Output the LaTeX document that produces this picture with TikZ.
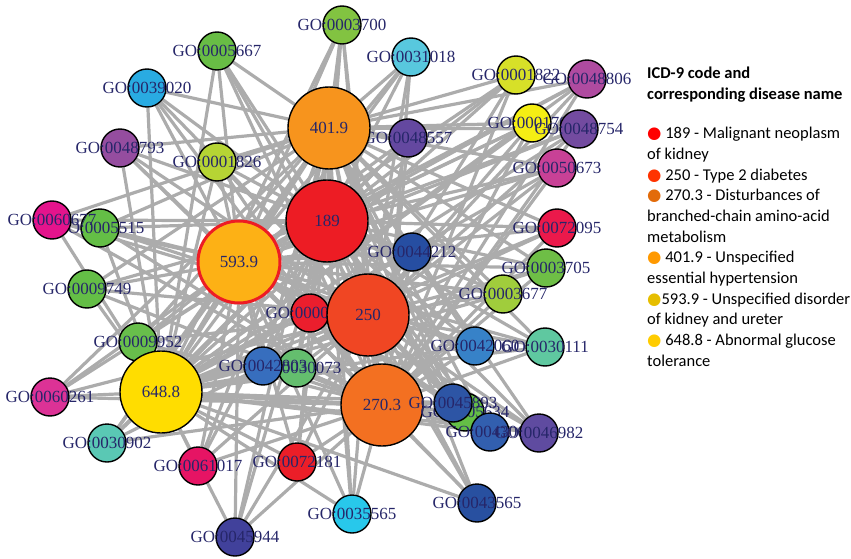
\documentclass[tikz,border=0pt]{standalone}
\usepackage{fontspec}
\setmainfont{Liberation Serif}
\newfontfamily\legfont{Carlito}
\newfontfamily\symfont{DejaVu Sans}
\definecolor{labc}{RGB}{38,38,105}
\definecolor{edgec}{RGB}{172,172,172}
\definecolor{b189}{RGB}{255,0,0}
\definecolor{b250}{RGB}{255,51,0}
\definecolor{b2703}{RGB}{226,107,10}
\definecolor{b4019}{RGB}{255,153,0}
\definecolor{b5939}{RGB}{230,190,0}
\definecolor{b6488}{RGB}{255,204,0}
\pgfdeclarelayer{bg}
\pgfsetlayers{bg,main}
\begin{document}
\begin{tikzpicture}[x=1pt,y=-1pt,
  gocirc/.style={circle,draw=black,line width=1.4pt,minimum size=38pt,inner sep=0pt},
  dcirc/.style={circle,draw=black,line width=1.4pt,minimum size=82pt,inner sep=0pt},
  golab/.style={text=labc,font=\fontsize{17}{20}\selectfont,inner sep=0pt},
  edge/.style={draw=edgec,line width=3.2pt},
  legtxt/.style={inner sep=0pt,align=left,text=black}]
\useasboundingbox (0,0) rectangle (851,559);
\newcommand{\gon}[5]{\node[gocirc,fill={rgb,255:#4},label={[golab]center:{#5}}] (#1) at (#2,#3) {};}
\newcommand{\dn}[5]{\node[dcirc,fill={rgb,255:#4},label={[golab]center:{#5}}] (#1) at (#2,#3) {};}
\gon{g5667}{217}{51}{red,104;green,189;blue,69}{GO:0005667}
\gon{g39020}{147}{88}{red,41;green,171;blue,226}{GO:0039020}
\gon{g48793}{120}{148}{red,149;green,77;blue,159}{GO:0048793}
\gon{g1826}{217}{162}{red,182;green,212;blue,52}{GO:0001826}
\gon{g3700}{342}{25}{red,130;green,195;blue,65}{GO:0003700}
\gon{g31018}{411}{57}{red,88;green,200;blue,222}{GO:0031018}
\gon{g48557}{408}{138}{red,100;green,72;blue,160}{GO:0048557}
\gon{g1822}{516}{75}{red,215;green,224;blue,40}{GO:0001822}
\gon{g48806}{587}{79}{red,175;green,75;blue,160}{GO:0048806}
\gon{g1701}{532}{123}{red,245;green,238;blue,20}{GO:0001701}
\gon{g48754}{579}{129}{red,115;green,75;blue,160}{GO:0048754}
\gon{g50673}{557}{168}{red,200;green,65;blue,150}{GO:0050673}
\gon{g5515}{100}{228}{red,100;green,190;blue,70}{GO:0005515}
\gon{g60677}{52}{220}{red,228;green,20;blue,140}{GO:0060677}
\gon{g9749}{87}{289}{red,100;green,190;blue,70}{GO:0009749}
\gon{g9952}{138}{342}{red,104;green,190;blue,75}{GO:0009952}
\gon{g44212}{412}{252}{red,38;green,78;blue,162}{GO:0044212}
\gon{g72095}{557}{228}{red,235;green,25;blue,75}{GO:0072095}
\gon{g3705}{546}{268}{red,110;green,190;blue,70}{GO:0003705}
\gon{g3677}{503}{294}{red,160;green,205;blue,60}{GO:0003677}
\gon{g42060}{475}{346}{red,55;green,130;blue,200}{GO:0042060}
\gon{g30111}{545}{347}{red,95;green,200;blue,160}{GO:0030111}
\gon{g35565}{352}{514}{red,40;green,200;blue,235}{GO:0035565}
\gon{g72181}{297}{462}{red,235;green,30;blue,40}{GO:0072181}
\gon{g61017}{198}{466}{red,230;green,20;blue,100}{GO:0061017}
\gon{g60261}{50}{397}{red,220;green,50;blue,150}{GO:0060261}
\gon{g30902}{107}{443}{red,90;green,200;blue,180}{GO:0030902}
\gon{g45944}{235}{537}{red,65;green,65;blue,155}{GO:0045944}
\gon{g43565}{477}{503}{red,40;green,80;blue,160}{GO:0043565}
\dn{d4019}{329}{128}{red,247;green,148;blue,29}{401.9}
\dn{d189}{327}{221}{red,237;green,28;blue,36}{189}
\node[dcirc,fill={rgb,255:red,253;green,177;blue,21},draw={rgb,255:red,237;green,28;blue,36},line width=3pt,label={[golab]center:{593.9}}] (d5939) at (239,262) {};
\gon{g122}{310}{313}{red,235;green,30;blue,45}{GO:0000122}
\dn{d250}{368}{315}{red,240;green,70;blue,35}{250}
\gon{g30073}{297}{368}{red,100;green,190;blue,110}{GO:0030073}
\gon{g42803}{263}{366}{red,55;green,110;blue,190}{GO:0042803}
\dn{d6488}{161}{392}{red,255;green,221;blue,0}{648.8}
\dn{d2703}{382}{405}{red,243;green,112;blue,33}{270.3}
\gon{g5634}{465}{412}{red,100;green,190;blue,70}{GO:0005634}
\gon{g45893}{453}{403}{red,45;green,85;blue,165}{GO:0045893}
\gon{g43066}{490}{432}{red,50;green,95;blue,175}{GO:0043066}
\gon{g46982}{539}{433}{red,95;green,75;blue,160}{GO:0046982}
\begin{pgfonlayer}{bg}
\foreach \g in {g5667,g39020,g48793,g1826,g3700,g31018,g48557,g1822,g48806,g1701,g48754,g50673,g60677,g5515,g9749,g9952,g44212,g72095,g3705,g3677,g42060,g30111,g35565,g72181,g61017,g60261,g30902,g45944,g43565,g122,g42803,g30073,g5634,g45893,g43066,g46982}
  \foreach \d in {d4019,d189,d5939,d250,d2703,d6488}
    \draw[edge] (\g) -- (\d);
\foreach \a/\b in {d4019/d189,d4019/d5939,d4019/d250,d4019/d2703,d4019/d6488,d189/d5939,d189/d250,d189/d2703,d189/d6488,d5939/d250,d5939/d2703,d5939/d6488,d250/d2703,d250/d6488,d2703/d6488}
  \draw[edge] (\a) -- (\b);
\end{pgfonlayer}
\node[legtxt,anchor=north west,font=\legfont\bfseries\fontsize{16.5}{20.7}\selectfont] (legtitle) at (647,67) {ICD-9 code and\\corresponding disease name};
\node[legtxt,anchor=north west,font=\legfont\fontsize{16.5}{20.7}\selectfont] (legitems) at (647,127) {%
\textcolor{b189}{\symfont ●} 189 - Malignant neoplasm\\
of kidney\\
\textcolor{b250}{\symfont ●} 250 - Type 2 diabetes\\
\textcolor{b2703}{\symfont ●} 270.3 - Disturbances of\\
branched-chain amino-acid\\
metabolism\\
\textcolor{b4019}{\symfont ●} 401.9 - Unspecified\\
essential hypertension\\
\textcolor{b5939}{\symfont ●}593.9 - Unspecified disorder\\
of kidney and ureter\\
\textcolor{b6488}{\symfont ●} 648.8 - Abnormal glucose\\
tolerance};
\end{tikzpicture}
\end{document}
